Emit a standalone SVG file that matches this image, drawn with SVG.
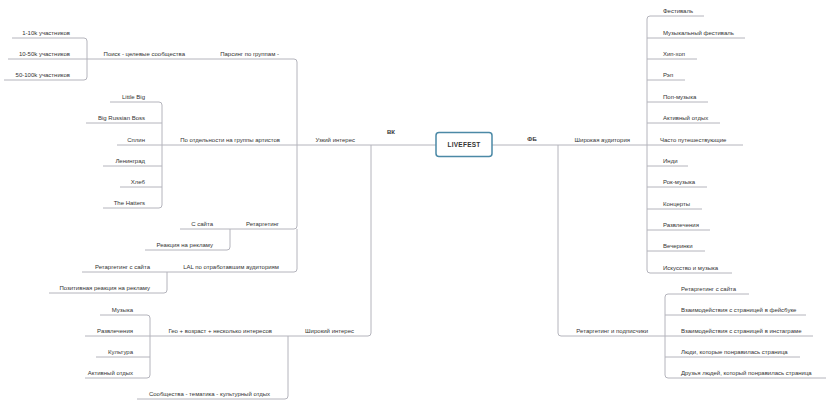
<svg xmlns="http://www.w3.org/2000/svg" width="828" height="405" viewBox="0 0 828 405">
<style>
text{font-family:"Liberation Sans",Arial,sans-serif;font-size:6px;fill:#333}
.l{text-anchor:end}
.r{text-anchor:start}
.b{font-weight:bold;text-anchor:middle}
#connectors path{fill:none;stroke:#b4b4bc;stroke-width:1}
.box{fill:#fff;stroke:#4b89a6;stroke-width:1.5}
</style>
<rect width="828" height="405" fill="#fff"/>
<g id="connectors">
<path d="M436 145H297"/>
<path d="M371 145V333Q371 336 368 336H288"/>
<path d="M297 145V62Q297 59 294 59H202"/>
<path d="M297 145H162"/>
<path d="M297 145V226Q297 229 294 229H230"/>
<path d="M297 229V269Q297 272 294 272H167"/>
<path d="M202 59H87"/>
<path d="M87 59V41Q87 38 84 38H12"/>
<path d="M87 59H8"/>
<path d="M87 59V77Q87 80 84 80H4"/>
<path d="M162 145V105Q162 102 159 102H110"/>
<path d="M162 123H86"/>
<path d="M162 145H117"/>
<path d="M162 166H103"/>
<path d="M162 187H120"/>
<path d="M162 145V205Q162 208 159 208H103"/>
<path d="M230 229H180"/>
<path d="M230 229V247Q230 250 227 250H145"/>
<path d="M167 272H82"/>
<path d="M167 272V290Q167 293 164 293H49"/>
<path d="M288 336H150"/>
<path d="M288 336V396Q288 399 285 399H137"/>
<path d="M150 336V318Q150 315 147 315H100"/>
<path d="M150 336H85"/>
<path d="M150 357H96"/>
<path d="M150 336V375Q150 378 147 378H85"/>
<path d="M492 145H743"/>
<path d="M558 145V333Q558 336 561 336H665"/>
<path d="M647 145V19Q647 16 650 16H704"/>
<path d="M647 38H745"/>
<path d="M647 59H697"/>
<path d="M647 80H685"/>
<path d="M647 102H708"/>
<path d="M647 123H720"/>
<path d="M647 166H688"/>
<path d="M647 187H707"/>
<path d="M647 209H702"/>
<path d="M647 230H710"/>
<path d="M647 251H705"/>
<path d="M647 145V270Q647 273 650 273H732"/>
<path d="M665 336V297Q665 294 668 294H749"/>
<path d="M665 315H806"/>
<path d="M665 336H813"/>
<path d="M665 357H800"/>
<path d="M665 336V375Q665 378 668 378H826"/>
</g>
<g id="livefest"><rect class="box" x="436" y="132.5" width="56" height="24" rx="3"/><text class="b" x="464" y="147.3" style="font-size:6.5px;letter-spacing:0.25px">LIVEFEST</text></g>
<g id="vk"><text class="b" x="391" y="134">ВК</text></g>
<g id="fb"><text class="b" x="532" y="141">ФБ</text></g>
<g id="uzkiy"><text class="l" x="355" y="142">Узкий интерес</text></g>
<g id="parsing"><text class="l" x="279" y="56">Парсинг по группам -</text></g>
<g id="poisk"><text class="l" x="185" y="56">Поиск - целевые сообщества</text></g>
<g id="n1-10k"><text class="l" x="70" y="35">1-10k участников</text></g>
<g id="n10-50k"><text class="l" x="70" y="56">10-50k участников</text></g>
<g id="n50-100k"><text class="l" x="70" y="77">50-100k участников</text></g>
<g id="otdelno"><text class="l" x="280" y="142">По отдельности на группы артистов</text></g>
<g id="littlebig"><text class="l" x="145" y="99">Little Big</text></g>
<g id="brb"><text class="l" x="145" y="120">Big Russian Boss</text></g>
<g id="splin"><text class="l" x="145" y="142">Сплин</text></g>
<g id="leningrad"><text class="l" x="145" y="163">Ленинград</text></g>
<g id="hleb"><text class="l" x="145" y="184">Хлеб</text></g>
<g id="hatters"><text class="l" x="145" y="205">The Hatters</text></g>
<g id="retarget-vk"><text class="l" x="279" y="226">Ретаргетинг</text></g>
<g id="s-saita"><text class="l" x="213" y="226">С сайта</text></g>
<g id="reakciya"><text class="l" x="213" y="247">Реакция на рекламу</text></g>
<g id="lal"><text class="l" x="279" y="269">LAL по отработавшим аудиториям</text></g>
<g id="retarget-site-vk"><text class="l" x="150" y="269">Ретаргетинг с сайта</text></g>
<g id="pozitiv"><text class="l" x="150" y="290">Позитивная реакция на рекламу</text></g>
<g id="shirokiy"><text class="l" x="354" y="333">Широкий интерес</text></g>
<g id="geo"><text class="l" x="272" y="333">Гео + возраст + несколько интересов</text></g>
<g id="muzyka"><text class="l" x="133" y="312">Музыка</text></g>
<g id="razvl-vk"><text class="l" x="133" y="333">Развлечения</text></g>
<g id="kultura"><text class="l" x="133" y="354">Культура</text></g>
<g id="aktiv-vk"><text class="l" x="133" y="375">Активный отдых</text></g>
<g id="soobshestva"><text class="l" x="270" y="396">Сообщества - тематика - культурный отдых</text></g>
<g id="shirokaya"><text class="l" x="630" y="142">Широкая аудитория</text></g>
<g id="festival"><text class="r" x="663" y="13">Фестиваль</text></g>
<g id="muz-fest"><text class="r" x="663" y="35">Музыкальный фестиваль</text></g>
<g id="hiphop"><text class="r" x="663" y="56">Хип-хоп</text></g>
<g id="rep"><text class="r" x="663" y="77">Рэп</text></g>
<g id="pop"><text class="r" x="663" y="99">Поп-музыка</text></g>
<g id="aktiv-fb"><text class="r" x="663" y="120">Активный отдых</text></g>
<g id="chasto"><text class="r" x="660" y="142">Часто путешествующие</text></g>
<g id="indi"><text class="r" x="663" y="163">Инди</text></g>
<g id="rok"><text class="r" x="663" y="184">Рок-музыка</text></g>
<g id="koncerty"><text class="r" x="663" y="206">Концерты</text></g>
<g id="razvl-fb"><text class="r" x="663" y="227">Развлечения</text></g>
<g id="vecherinki"><text class="r" x="663" y="248">Вечеринки</text></g>
<g id="iskusstvo"><text class="r" x="663" y="270">Искусство и музыка</text></g>
<g id="retarget-podp"><text class="l" x="648" y="333">Ретаргетинг и подписчики</text></g>
<g id="retarget-site-fb"><text class="r" x="681" y="291">Ретаргетинг с сайта</text></g>
<g id="vz-fb"><text class="r" x="681" y="312">Взаимодействия с страницей в фейсбуке</text></g>
<g id="vz-insta"><text class="r" x="681" y="333">Взаимодействия с страницей в инстаграме</text></g>
<g id="lyudi"><text class="r" x="681" y="354">Люди, которые понравилась страница</text></g>
<g id="druzya"><text class="r" x="681" y="375">Друзья людей, который понравилась страница</text></g>
</svg>
